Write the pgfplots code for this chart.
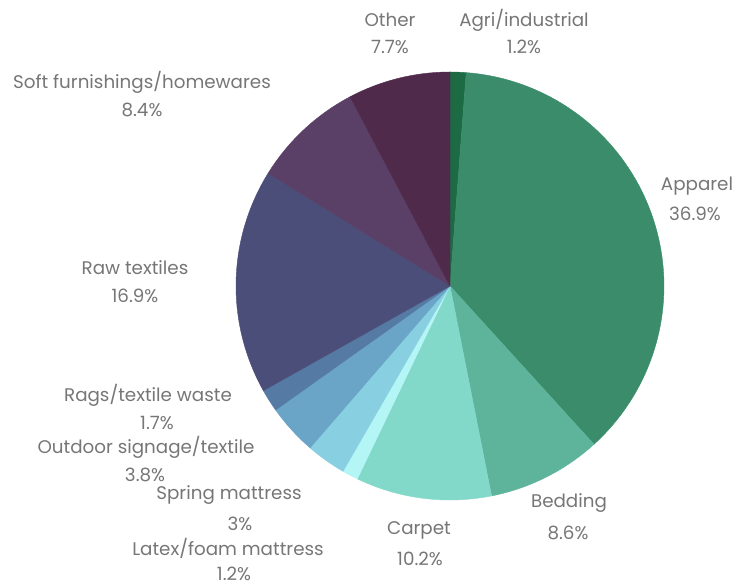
\documentclass[border=0pt]{standalone}
\usepackage{pgfplots}
\pgfplotsset{compat=1.18}
\usepackage{fontspec}
\setmainfont{Poppins}
\definecolor{cAgri}{HTML}{1D6B45}
\definecolor{cApparel}{HTML}{3B8C6B}
\definecolor{cBedding}{HTML}{5DB49B}
\definecolor{cCarpet}{HTML}{82D8C9}
\definecolor{cLatex}{HTML}{B4F5F5}
\definecolor{cSpring}{HTML}{88D0E1}
\definecolor{cOutdoor}{HTML}{6AA4C6}
\definecolor{cRags}{HTML}{557AA3}
\definecolor{cRaw}{HTML}{4B4E78}
\definecolor{cSoft}{HTML}{5A3F66}
\definecolor{cOther}{HTML}{4F2A4A}
\definecolor{txt}{HTML}{767676}
\tikzset{lbl/.style={font=\fontsize{18.3}{20}\selectfont, text=txt, inner sep=0pt, anchor=center}}
\def\cum{0}
\def\total{99.6}
\newcommand\slice[2]{%
  \pgfmathsetmacro\sa{90-(\cum/\total)*360}%
  \pgfmathsetmacro\cumnew{\cum+#1}%
  \pgfmathsetmacro\sb{90-(\cumnew/\total)*360}%
  \xdef\cum{\cumnew}%
  \edef\temp{\noexpand\addplot[fill=#2, draw=#2, line width=0.4pt, domain=\sb:\sa, samples=80, variable=\noexpand\t] ({450+214*cos(\noexpand\t)}, {302+214*sin(\noexpand\t)}) -- (axis cs:450,302) -- cycle;}%
  \temp
}
\begin{document}
\begin{tikzpicture}
\begin{axis}[hide axis, x=1pt, y=1pt, xmin=0, xmax=734, ymin=0, ymax=588, clip=false]
\path (axis cs:0,0) rectangle (axis cs:734,588);
% values (percent), clockwise from 12 o'clock
\slice{1.2}{cAgri}
\slice{36.9}{cApparel}
\slice{8.6}{cBedding}
\slice{10.2}{cCarpet}
\slice{1.2}{cLatex}
\slice{3}{cSpring}
\slice{3.8}{cOutdoor}
\slice{1.7}{cRags}
\slice{16.9}{cRaw}
\slice{8.4}{cSoft}
\slice{7.7}{cOther}
% labels
\node[lbl] at (axis cs:390,568) {Other};
\node[lbl] at (axis cs:390,541) {7.7\%};
\node[lbl] at (axis cs:524,568) {Agri/industrial};
\node[lbl] at (axis cs:524,541) {1.2\%};
\node[lbl] at (axis cs:142,506) {Soft furnishings/homewares};
\node[lbl] at (axis cs:142,478) {8.4\%};
\node[lbl] at (axis cs:697,402) {Apparel};
\node[lbl] at (axis cs:695,374) {36.9\%};
\node[lbl] at (axis cs:135,320) {Raw textiles};
\node[lbl] at (axis cs:135,292) {16.9\%};
\node[lbl] at (axis cs:148,193) {Rags/textile waste};
\node[lbl] at (axis cs:157,165) {1.7\%};
\node[lbl] at (axis cs:146,141) {Outdoor signage/textile};
\node[lbl] at (axis cs:145,113) {3.8\%};
\node[lbl] at (axis cs:229,93) {Spring mattress};
\node[lbl] at (axis cs:240,64) {3\%};
\node[lbl] at (axis cs:228,40) {Latex/foam mattress};
\node[lbl] at (axis cs:234,14) {1.2\%};
\node[lbl] at (axis cs:419,58) {Carpet};
\node[lbl] at (axis cs:420,29) {10.2\%};
\node[lbl] at (axis cs:569,85) {Bedding};
\node[lbl] at (axis cs:568,55) {8.6\%};
\end{axis}
\end{tikzpicture}
\end{document}
